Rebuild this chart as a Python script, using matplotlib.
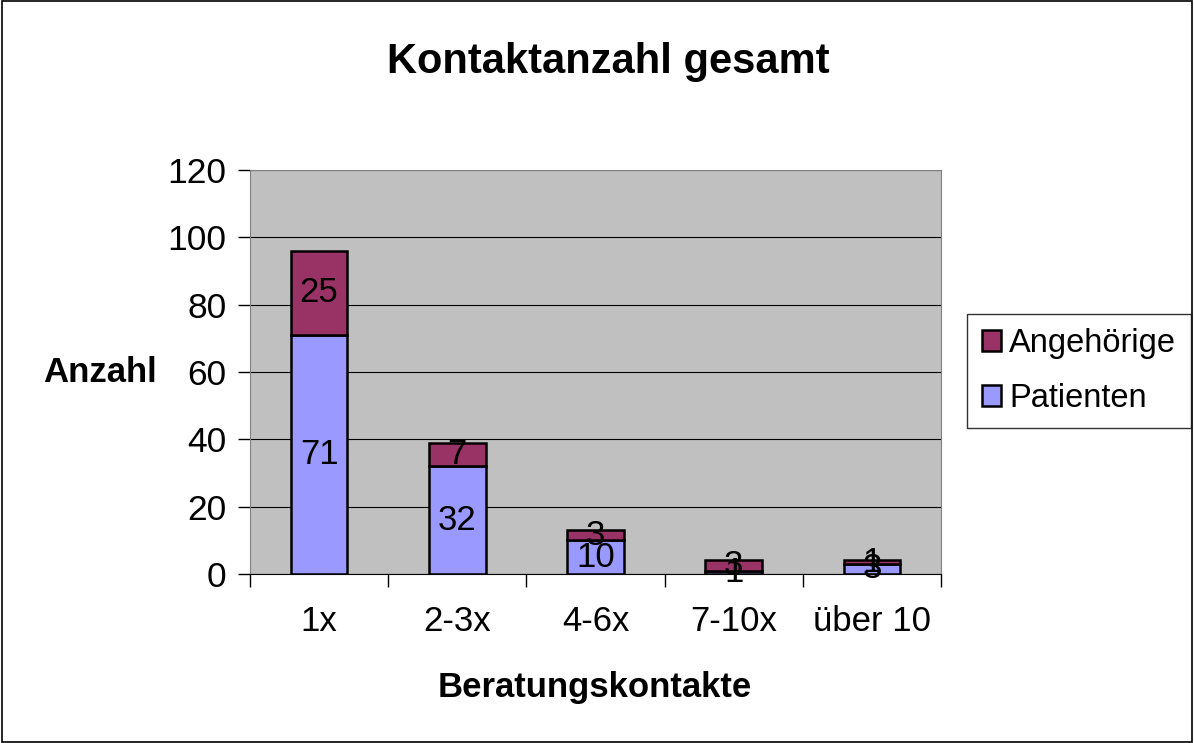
import matplotlib.pyplot as plt
import numpy as np

plt.rcParams['font.family'] = ['Liberation Sans', 'DejaVu Sans']

categories = ["1x", "2-3x", "4-6x", "7-10x", "über 10"]
patienten = [71, 32, 10, 1, 3]
angehoerige = [25, 7, 3, 3, 1]
yticks = [0, 20, 40, 60, 80, 100, 120]

fig = plt.figure(figsize=(11.94, 7.43), dpi=100)
# Rahmen um die ganze Grafik
fig.patches.append(plt.Rectangle((0.002, 0.002), 0.996, 0.996, transform=fig.transFigure,
                                 fill=False, edgecolor='black', linewidth=1.2))
ax = fig.add_axes([0.2094, 0.2275, 0.5787, 0.5438])
ax.set_facecolor('#C0C0C0')

x = np.arange(len(categories))
w = 0.41
b1 = ax.bar(x, patienten, w, color='#9999FF', edgecolor='black', linewidth=1.8, label='Patienten', zorder=3)
b2 = ax.bar(x, angehoerige, w, bottom=patienten, color='#993366', edgecolor='black', linewidth=1.8,
            label='Angehörige', zorder=3)

for i in range(len(categories)):
    ax.text(x[i], patienten[i] / 2, str(patienten[i]), ha='center', va='center', fontsize=25, zorder=4)
    ax.text(x[i], patienten[i] + angehoerige[i] / 2, str(angehoerige[i]), ha='center', va='center',
            fontsize=25, zorder=4)

ax.set_xlim(-0.5, len(categories) - 0.5)
ax.set_ylim(0, 120)
ax.set_yticks(yticks)
ax.yaxis.grid(True, color='black', linewidth=0.8, zorder=0)
ax.set_axisbelow(True)
ax.tick_params(axis='y', labelsize=25.5, direction='out', length=9, width=1, pad=8)
ax.set_xticks(x)
ax.set_xticklabels(categories)
ax.tick_params(axis='x', which='major', labelsize=25, length=0, pad=22)
ax.set_xticks(np.arange(-0.5, len(categories)), minor=True)
ax.tick_params(axis='x', which='minor', length=9, width=1, direction='out')

for s in ['top', 'right', 'left']:
    ax.spines[s].set_color('#808080')
ax.spines['bottom'].set_color('black')

fig.text(0.498, 1 - 688 / 743, 'Beratungskontakte', ha='center', va='center', fontsize=25, fontweight='bold')
fig.text(100 / 1194, 1 - 373 / 743, 'Anzahl', ha='center', va='center', fontsize=25, fontweight='bold')
fig.text(608 / 1194, 1 - 62 / 743, 'Kontaktanzahl gesamt', ha='center', va='center', fontsize=30,
         fontweight='bold')

handles = [b2, b1]
leg = fig.legend(handles, ['Angehörige', 'Patienten'], loc='center left',
                 bbox_to_anchor=(967 / 1194, 1 - 371 / 743), fontsize=23.5, frameon=True, fancybox=False,
                 edgecolor='black', handlelength=0.6, handleheight=0.6, handletextpad=0.25,
                 borderpad=0.45, borderaxespad=0, labelspacing=0.72)
leg.get_frame().set_linewidth(1)

fig.savefig('out.png', dpi=100)
